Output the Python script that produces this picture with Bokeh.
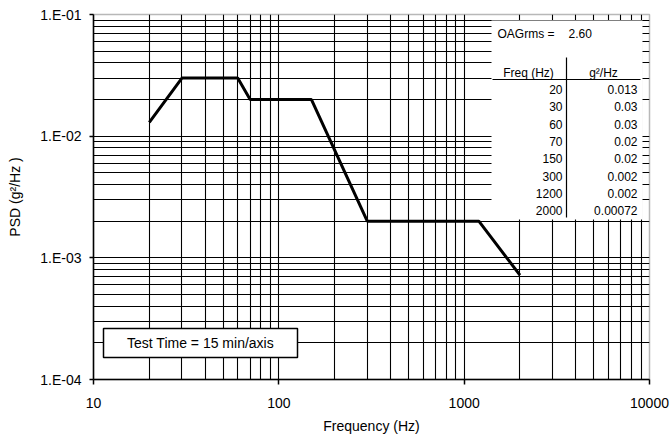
from bokeh.plotting import figure
from bokeh.models import (FixedTicker, Label, BoxAnnotation, Range1d)
from bokeh.embed import file_html
from bokeh.resources import INLINE

# ---- data ----
FREQ = [20, 30, 60, 70, 150, 300, 1200, 2000]
PSD = [0.013, 0.03, 0.03, 0.02, 0.02, 0.002, 0.002, 0.00072]
OAGRMS = "2.60"
TEST_TIME = "Test Time = 15 min/axis"
X_TICKS = [10, 100, 1000, 10000]
X_TICK_LABELS = ["10", "100", "1000", "10000"]
Y_TICKS = [1e-4, 1e-3, 1e-2, 1e-1]
Y_TICK_LABELS = ["1.E-04", "1.E-03", "1.E-02", "1.E-01"]

FONT = "Liberation Sans"

p = figure(width=671, height=442, x_axis_type="log", y_axis_type="log",
           x_range=Range1d(10, 10000), y_range=Range1d(1e-4, 1e-1),
           output_backend="svg", toolbar_location=None,
           min_border_left=93, min_border_right=22, min_border_top=14,
           min_border_bottom=63)
p.background_fill_color = "white"
p.border_fill_color = "white"
p.outline_line_color = "#b8b8b8"
p.outline_line_width = 1.5

x_minor = [m * 10 ** e for e in range(1, 4) for m in range(2, 10)]
y_minor = [m * 10 ** e for e in range(-4, -1) for m in range(2, 10)]
p.xaxis.ticker = FixedTicker(ticks=X_TICKS, minor_ticks=x_minor)
p.yaxis.ticker = FixedTicker(ticks=Y_TICKS, minor_ticks=y_minor)
p.xaxis.major_label_overrides = {float(t): l for t, l in zip(X_TICKS, X_TICK_LABELS)}
p.yaxis.major_label_overrides = {float(t): l for t, l in zip(Y_TICKS, Y_TICK_LABELS)}

for g in (p.xgrid, p.ygrid):
    g.grid_line_color = "black"
    g.grid_line_width = 1.1
    g.minor_grid_line_color = "black"
    g.minor_grid_line_width = 1.1

for ax in (p.xaxis, p.yaxis):
    ax.axis_line_color = "black"
    ax.axis_line_width = 1.5
    ax.major_tick_line_color = "black"
    ax.major_tick_line_width = 1.5
    ax.major_tick_in = 0
    ax.minor_tick_in = 0
    ax.minor_tick_out = 0
    ax.major_label_text_font = FONT
    ax.major_label_text_font_size = "14px"
    ax.major_label_text_color = "black"
    ax.axis_label_text_font = FONT
    ax.axis_label_text_font_size = "14px"
    ax.axis_label_text_font_style = "normal"
    ax.axis_label_text_color = "black"

p.xaxis.major_tick_out = 5
p.yaxis.major_tick_out = 4
p.xaxis.major_label_standoff = 13
p.yaxis.major_label_standoff = 8
p.xaxis.axis_label = "Frequency (Hz)"
p.yaxis.axis_label = "PSD (g\u00b2/Hz )"
p.xaxis.axis_label_standoff = 7
p.yaxis.axis_label_standoff = 14

p.line(FREQ, PSD, line_color="black", line_width=3)

# ---- table (screen units, relative to the frame) ----
def sbox(left, right, bottom, top, fill="white", line=None):
    b = BoxAnnotation(left=left, right=right, bottom=bottom, top=top,
                      left_units="screen", right_units="screen",
                      bottom_units="screen", top_units="screen",
                      fill_color=fill, fill_alpha=1.0,
                      line_color=line, line_alpha=1.0,
                      line_width=1.5 if line else 0)
    p.add_layout(b)

def slabel(x, y, text, align="left", size="12px"):
    p.add_layout(Label(x=x, y=y, x_units="screen", y_units="screen", text=text,
                       text_align=align, text_baseline="middle",
                       text_font=FONT, text_font_size=size, text_color="black"))

sbox(398, 549, 160, 359)
slabel(404, 346, "OAGrms =")
slabel(475, 346, OAGRMS)
slabel(435, 307, "Freq (Hz)", align="center")
slabel(510, 307, "g\u00b2/Hz", align="center")
sbox(399, 547, 299.4, 300.6, fill="black")
sbox(472.4, 473.6, 162, 322, fill="black")
for i, (f, v) in enumerate(zip(FREQ, PSD)):
    y = 290 - i * 17.3
    slabel(469, y, str(f), align="right")
    slabel(544, y, str(v), align="right")

# ---- test time box ----
sbox(10, 204, 22, 51, fill="white", line="black")
slabel(107, 36.5, TEST_TIME, align="center", size="14px")

open("out.html", "w").write(file_html(p, INLINE))
